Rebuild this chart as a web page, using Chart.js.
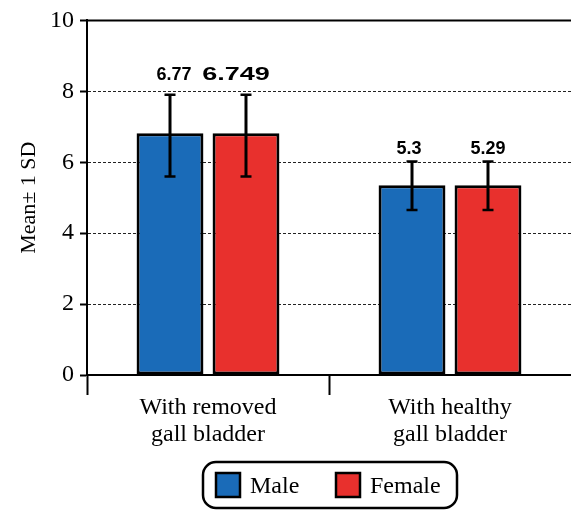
<!DOCTYPE html>
<html>
<head>
<meta charset="utf-8">
<script src="https://cdn.jsdelivr.net/npm/chart.js@4.4.1/dist/chart.umd.min.js"></script>
<style>
  html, body { margin: 0; padding: 0; background: #fff; }
  #wrap { width: 571px; height: 512px; }
</style>
</head>
<body>
<div id="wrap"><canvas id="gall-chart"></canvas></div>
<script>
// data
const groups = [["With removed", "gall bladder"], ["With healthy", "gall bladder"]];
const seriesNames = ["Male", "Female"];
const maleMean = [6.82, 5.35];
const femaleMean = [6.82, 5.35];
const maleSdLow = [5.6, 4.65];
const maleSdHigh = [7.9, 6.02];
const femaleSdLow = [5.6, 4.65];
const femaleSdHigh = [7.9, 6.02];
const maleLabels = ["6.77", "5.3"];
const femaleLabels = ["6.749", "5.29"];
const yMin = 0;
const yMax = 10;
const yStep = 2;

const blue = "#1a6bb8";
const red = "#e8302d";
const serif = "'Liberation Serif', 'Times New Roman', serif";

// per-label tweaks: [dataset][index]
const labelStyle = [
  [{ dx: 4, gap: 15, sx: 1 }, { dx: -3, gap: 8, sx: 1 }],
  [{ dx: -10, gap: 15, sx: 1.5 }, { dx: 0, gap: 8, sx: 1 }],
];

const errLow = [maleSdLow, femaleSdLow];
const errHigh = [maleSdHigh, femaleSdHigh];
const valueLabels = [maleLabels, femaleLabels];

const extras = {
  id: "extras",
  afterDatasetsDraw(chart) {
    const ctx = chart.ctx;
    const y = chart.scales.y;
    const area = chart.chartArea;

    // solid top line at 10
    ctx.save();
    ctx.strokeStyle = "#000";
    ctx.lineWidth = 2;
    ctx.beginPath();
    ctx.moveTo(area.left, y.getPixelForValue(yMax));
    ctx.lineTo(area.right, y.getPixelForValue(yMax));
    ctx.stroke();

    chart.data.datasets.forEach((ds, di) => {
      const meta = chart.getDatasetMeta(di);
      meta.data.forEach((bar, i) => {
        const x = bar.x;
        const yHi = y.getPixelForValue(errHigh[di][i]);
        const yLo = y.getPixelForValue(errLow[di][i]);
        ctx.strokeStyle = "#000";
        ctx.lineWidth = 3;
        ctx.beginPath();
        ctx.moveTo(x, yHi);
        ctx.lineTo(x, yLo);
        ctx.stroke();
        ctx.lineWidth = 2.5;
        ctx.beginPath();
        ctx.moveTo(x - 5.5, yHi);
        ctx.lineTo(x + 5.5, yHi);
        ctx.moveTo(x - 5.5, yLo);
        ctx.lineTo(x + 5.5, yLo);
        ctx.stroke();

        const st = labelStyle[di][i];
        ctx.save();
        ctx.translate(x + st.dx, yHi - st.gap);
        ctx.scale(st.sx, 1);
        ctx.fillStyle = "#000";
        ctx.font = "bold 18px 'Liberation Sans', Arial, sans-serif";
        ctx.textAlign = "center";
        ctx.textBaseline = "alphabetic";
        ctx.fillText(valueLabels[di][i], 0, 0);
        ctx.restore();
      });
    });

    // legend box
    ctx.lineWidth = 2.5;
    ctx.strokeStyle = "#000";
    ctx.beginPath();
    ctx.roundRect(203, 462, 254, 46, 13);
    ctx.stroke();
    const items = [
      { x: 216, color: blue, text: seriesNames[0] },
      { x: 336, color: red, text: seriesNames[1] },
    ];
    items.forEach((it) => {
      ctx.fillStyle = it.color;
      ctx.fillRect(it.x, 473, 24, 24);
      ctx.lineWidth = 2.5;
      ctx.strokeRect(it.x, 473, 24, 24);
      ctx.fillStyle = "#000";
      ctx.font = "24px " + serif;
      ctx.textAlign = "left";
      ctx.textBaseline = "alphabetic";
      ctx.fillText(it.text, it.x + 34, 493);
    });
    ctx.restore();
  },
};

const data = {
  labels: groups,
  datasets: [
    {
      label: seriesNames[0],
      data: maleMean,
      backgroundColor: blue,
      borderColor: "#000",
      borderWidth: 3,
      borderSkipped: false,
    },
    {
      label: seriesNames[1],
      data: femaleMean,
      backgroundColor: red,
      borderColor: "#000",
      borderWidth: 3,
      borderSkipped: false,
    },
  ],
};

const config = {
  type: "bar",
  data: data,
  plugins: [extras],
  options: {
    responsive: true,
    maintainAspectRatio: false,
    animation: false,
    events: [],
    categoryPercentage: 0.628,
    barPercentage: 0.88,
    layout: { padding: { top: 18, right: 0, left: 0, bottom: 0 } },
    plugins: {
      legend: { display: false },
      tooltip: { enabled: false },
    },
    scales: {
      x: {
        afterFit: (s) => { s.height = 137; },
        grid: {
          offset: true,
          drawOnChartArea: false,
          tickLength: 20,
          // no tick on the far right edge
          tickColor: (c) => (c.type === "tick" ? "#000" : "rgba(0,0,0,0)"),
          tickWidth: 2,
        },
        border: { display: true, color: "#000", width: 2 },
        ticks: {
          color: "#000",
          padding: 0,
          maxRotation: 0,
          font: { family: serif, size: 24, lineHeight: 1.1 },
        },
      },
      y: {
        min: yMin,
        max: yMax,
        afterFit: (s) => { s.width = 87; },
        grid: {
          color: (c) => (c.tick && (c.tick.value === yMin || c.tick.value === yMax) ? "rgba(0,0,0,0)" : "#222"),
          lineWidth: 1,
          tickLength: 7,
          tickColor: "#000",
          tickWidth: 2,
        },
        border: { display: true, color: "#000", width: 2, dash: [3, 2] },
        ticks: {
          stepSize: yStep,
          color: "#000",
          padding: 6,
          font: { family: serif, size: 24 },
        },
        title: {
          display: true,
          text: "Mean\u00b1 1 SD",
          color: "#000",
          padding: { top: 16, bottom: 0 },
          font: { family: serif, size: 22 },
        },
      },
    },
  },
};

const myChart = new Chart(document.getElementById("gall-chart"), config);
</script>
</body>
</html>
